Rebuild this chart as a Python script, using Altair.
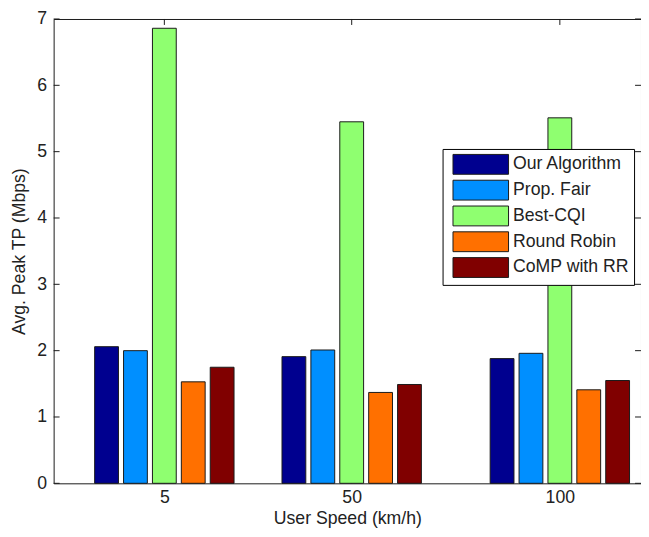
import altair as alt
import pandas as pd

# ---- data ----
speeds = [5, 50, 100]
series = ["Our Algorithm", "Prop. Fair", "Best-CQI", "Round Robin", "CoMP with RR"]
our_algorithm = [2.06, 1.91, 1.88]
prop_fair = [2.00, 2.01, 1.96]
best_cqi = [6.86, 5.45, 5.51]
round_robin = [1.53, 1.37, 1.41]
comp_with_rr = [1.75, 1.49, 1.55]
colors = ["#00008F", "#008FFF", "#8FFF70", "#FF7000", "#800000"]
y_ticks = [0, 1, 2, 3, 4, 5, 6, 7]

all_vals = [our_algorithm, prop_fair, best_cqi, round_robin, comp_with_rr]
rows = []
for i, (name, vals) in enumerate(zip(series, all_vals)):
    for s, v in zip(speeds, vals):
        rows.append({"speed": s, "series": name, "idx": i, "value": v})
df = pd.DataFrame(rows)

W, H = 592, 468
FONT = "Liberation Sans"
TXT = "#222222"
FS = 17.8
xscale = alt.Scale(domain=[-20.4, 118.3], nice=False, zero=False)
yscale = alt.Scale(domain=[0, 7], nice=False)

x_axis = alt.Axis(values=speeds, title="User Speed (km/h)", tickSize=0,
                  labelPadding=5, titlePadding=4, domain=False, grid=False)
y_axis = alt.Axis(values=y_ticks, title="Avg. Peak TP (Mbps)", tickSize=0,
                  labelPadding=7, titlePadding=8, domain=False, grid=False)

bars = (
    alt.Chart(df)
    .transform_calculate(xpos="datum.speed + (datum.idx - 2) * 6.94")
    .mark_bar(size=24, stroke="#1a1a1a", strokeWidth=1, opacity=1)
    .encode(
        x=alt.X("xpos:Q", scale=xscale, axis=x_axis, title="User Speed (km/h)"),
        y=alt.Y("value:Q", scale=yscale, axis=y_axis, title="Avg. Peak TP (Mbps)"),
        color=alt.Color(
            "series:N",
            scale=alt.Scale(domain=series, range=colors),
            legend=alt.Legend(
                title=None,
                orient="none",
                legendX=392,
                legendY=131,
                padding=5,
                strokeColor="black",
                fillColor="white",
                symbolType="M-0.5,-1H5.1V1H-0.5Z",
                symbolSize=400,
                symbolStrokeColor="#1a1a1a",
                symbolStrokeWidth=1,
                symbolOpacity=1,
                labelOffset=45,
                labelFontSize=FS,
                labelFont=FONT,
                labelColor=TXT,
                rowPadding=1,
                labelLimit=300,
            ),
        ),
    )
)

ty = pd.DataFrame({"v": y_ticks})
tx = pd.DataFrame({"s": speeds})
tick_col = "#1a1a1a"
left_ticks = alt.Chart(ty).mark_rule(color=tick_col).encode(
    y=alt.Y("v:Q", scale=yscale, axis=y_axis, title="Avg. Peak TP (Mbps)"),
    x=alt.value(0), x2=alt.value(6))
right_ticks = alt.Chart(ty).mark_rule(color=tick_col).encode(
    y=alt.Y("v:Q", scale=yscale, axis=y_axis, title="Avg. Peak TP (Mbps)"),
    x=alt.value(W - 6), x2=alt.value(W))
bottom_ticks = alt.Chart(tx).mark_rule(color=tick_col).encode(
    x=alt.X("s:Q", scale=xscale, axis=x_axis, title="User Speed (km/h)"),
    y=alt.value(H), y2=alt.value(H - 6))
top_ticks = alt.Chart(tx).mark_rule(color=tick_col).encode(
    x=alt.X("s:Q", scale=xscale, axis=x_axis, title="User Speed (km/h)"),
    y=alt.value(0), y2=alt.value(6))

chart = (
    alt.layer(left_ticks, right_ticks, bottom_ticks, top_ticks, bars)
    .properties(
        width=W,
        height=H,
        autosize=alt.AutoSizeParams(type="none"),
        padding={"left": 46, "top": 9, "right": 0, "bottom": 50},
        background="white",
    )
    .configure_view(stroke="#1a1a1a", strokeWidth=1)
    .configure_axis(
        labelFont=FONT, titleFont=FONT, labelFontSize=FS, titleFontSize=FS,
        labelColor=TXT, titleColor=TXT, titleFontWeight="normal",
    )
)

chart.save("out.html", embed_options={"renderer": "svg", "actions": False})
